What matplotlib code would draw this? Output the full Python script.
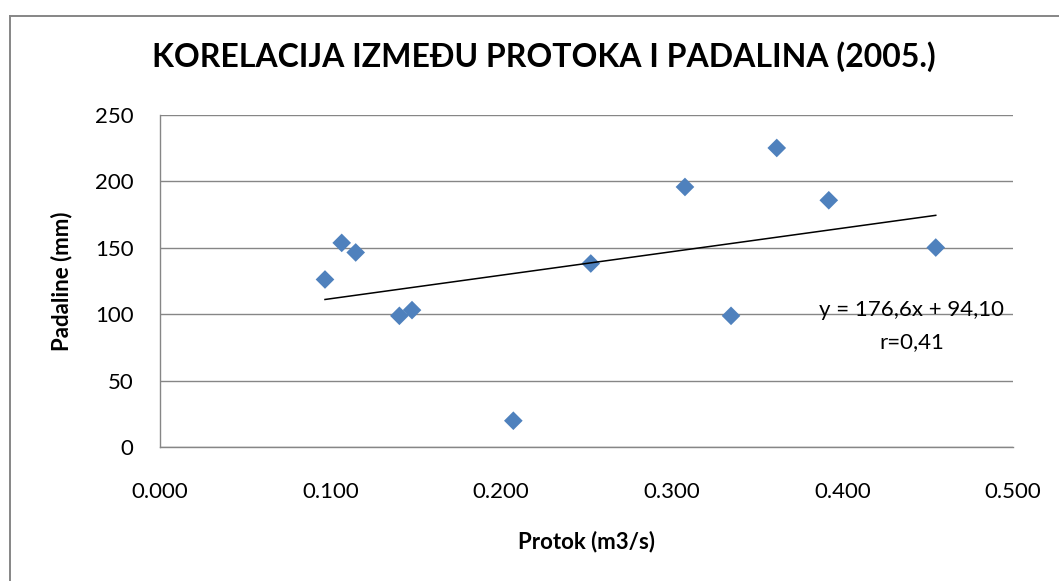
import matplotlib
matplotlib.use("Agg")
import matplotlib.pyplot as plt
from matplotlib.lines import Line2D
import numpy as np

# protok (m3/s) vs padaline (mm), 2005.
protok = [0.0967, 0.1065, 0.1147, 0.1403, 0.1477, 0.2071,
          0.2525, 0.3077, 0.3347, 0.3615, 0.3920, 0.4547]
padaline = [126.2, 153.7, 146.5, 98.9, 103.2, 20.1,
            138.2, 195.7, 98.9, 225.0, 185.7, 150.2]

# linearni trend iz Excela
slope = 176.6
intercept = 94.10
eq_label = "y = 176,6x + 94,10"
r_label = "r=0,41"

x_ticks = [0.0, 0.1, 0.2, 0.3, 0.4, 0.5]
y_ticks = [0, 50, 100, 150, 200, 250]

plt.rcParams['font.family'] = ['Lato', 'DejaVu Sans']
gray = "#868686"
fs = 16

fig = plt.figure(figsize=(10.59, 5.81), dpi=100)
ax = fig.add_axes([0.1511, 0.2298, 0.8055, 0.5728])

ax.scatter(protok, padaline, marker="D", s=9.5**2, color="#4F81BD",
           edgecolors="none", zorder=3)

xs = np.array([min(protok), max(protok)])
ax.plot(xs, slope * xs + intercept, color="black", lw=1.1, zorder=4)

ax.set_xlim(0, 0.5)
ax.set_ylim(0, 250)
ax.set_xticks(x_ticks)
ax.set_xticklabels(["%.3f" % v for v in x_ticks])
ax.set_yticks(y_ticks)
ax.tick_params(length=0, labelsize=fs)
ax.tick_params(axis="x", pad=25)
ax.tick_params(axis="y", pad=19)
ax.grid(axis="y", color=gray, lw=1.0)
ax.set_axisbelow(True)
for s in ["top", "right"]:
    ax.spines[s].set_visible(False)
for s in ["left", "bottom"]:
    ax.spines[s].set_color(gray)
    ax.spines[s].set_linewidth(1.0)

ax.set_xlabel("Protok (m3/s)", fontsize=fs, fontweight="bold", va="center")
ax.xaxis.set_label_coords(0.5, -0.283)
ax.set_ylabel("Padaline (mm)", fontsize=fs, fontweight="bold", va="center")
ax.yaxis.set_label_coords(-0.1152, 0.5)

ax.text(0.881, 0.413, eq_label, transform=ax.transAxes, ha="center",
        va="center", fontsize=fs)
ax.text(0.881, 0.317, r_label, transform=ax.transAxes, ha="center",
        va="center", fontsize=fs)

fig.text(543.5 / 1059, 1 - 57 / 581, "KORELACIJA IZMEĐU PROTOKA I PADALINA (2005.)",
         ha="center", va="center", fontsize=23, fontweight="bold")

# okvir grafikona
fig.add_artist(Line2D([9.5 / 1059, 9.5 / 1059], [0, 1 - 16 / 581],
                      color=gray, lw=1.4, transform=fig.transFigure))
fig.add_artist(Line2D([9.5 / 1059, 1], [1 - 16 / 581, 1 - 16 / 581],
                      color=gray, lw=1.4, transform=fig.transFigure))

fig.savefig("out.png", dpi=100)
